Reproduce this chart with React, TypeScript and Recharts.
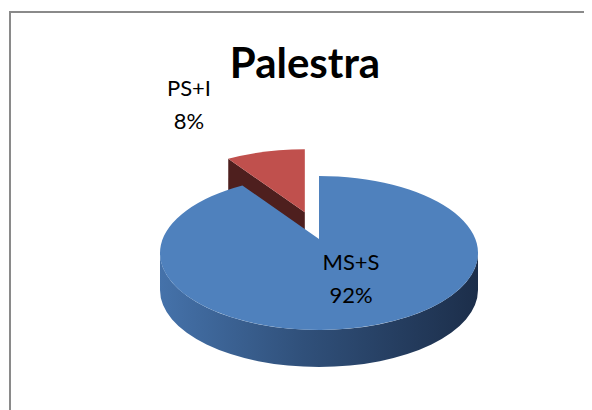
import React from 'react';
import { PieChart, Pie } from 'recharts';

const sliceNames = ['PS+I', 'MS+S'];
const sliceValues = [8, 92];
const topColors = ['#C0504D', '#4F81BD'];
const sideStops = [
  ['#9a3f3c', '#6e2c2a', '#4a1d1c'],
  ['#4572aa', '#30507a', '#1c2e4a'],
];
const cutColors = ['#4e1f1e', '#2c4a70'];
const explodeBy = [57, 0];
const labelOffsets = [
  [-130, -157],
  [32, 17],
];

const chartTitle = 'Palestra';

const data = sliceNames.map((name, i) => ({ name, value: sliceValues[i] }));

const W = 584;
const H = 402;
const CX = 306;
const CY = 240;
const R = 159;
const TILT = 77 / 159;
const DEPTH = 37;
const APEX_LIFT = 14;
const RAD = Math.PI / 180;
const FONT = 'Lato, "Open Sans", "DejaVu Sans", sans-serif';

function renderSlice(props: any) {
  const { cx, cy, outerRadius, startAngle, endAngle, index, percent, name } = props;
  const r = outerRadius;
  const mid = (startAngle + endAngle) / 2;
  const ex = explodeBy[index] || 0;
  const ox = cx + ex * Math.cos(mid * RAD);
  const oy = cy - ex * Math.sin(mid * RAD) * TILT;
  const ax = ox;
  const ay = oy - APEX_LIFT;
  const pt = (a: number, dz = 0) => [ox + r * Math.cos(a * RAD), oy - r * Math.sin(a * RAD) * TILT + dz];
  const ry = r * TILT;
  const gid = `side-grad-${index}`;

  const sides: React.ReactNode[] = [];
  for (let k = -1; k <= 2; k++) {
    const lo = Math.max(startAngle, 180 + 360 * k);
    const hi = Math.min(endAngle, 360 + 360 * k);
    if (lo < hi) {
      const [x1, y1] = pt(lo);
      const [x2, y2] = pt(hi);
      const [x3, y3] = pt(hi, DEPTH);
      const [x4, y4] = pt(lo, DEPTH);
      const large = hi - lo > 180 ? 1 : 0;
      const d = `M${x1},${y1} A${r},${ry} 0 ${large} 0 ${x2},${y2} L${x3},${y3} A${r},${ry} 0 ${large} 1 ${x4},${y4} Z`;
      sides.push(<path key={`s${k}`} d={d} fill={`url(#${gid})`} stroke="none" />);
    }
  }

  const cuts: React.ReactNode[] = [];
  const edges = [
    { a: startAngle, n: startAngle - 90 },
    { a: endAngle, n: endAngle + 90 },
  ];
  edges.forEach((e, j) => {
    if (Math.sin(e.n * RAD) < -0.01) {
      const [x1, y1] = pt(e.a);
      const d = `M${ax},${ay} L${x1},${y1} L${x1},${y1 + DEPTH} L${ax},${ay + DEPTH} Z`;
      cuts.push(<path key={`c${j}`} d={d} fill={cutColors[index]} stroke="none" />);
    }
  });

  const [sx, sy] = pt(startAngle);
  const [exx, eyy] = pt(endAngle);
  const largeTop = endAngle - startAngle > 180 ? 1 : 0;
  const topD = `M${ax},${ay} L${sx},${sy} A${r},${ry} 0 ${largeTop} 0 ${exx},${eyy} Z`;

  const [dx, dy] = labelOffsets[index];
  const lx = cx + dx;
  const ly = cy + dy;

  return (
    <g key={`slice-${index}`}>
      <defs>
        <linearGradient id={gid} gradientUnits="userSpaceOnUse" x1={ox - r} y1={0} x2={ox + r} y2={0}>
          <stop offset="0" stopColor={sideStops[index][0]} />
          <stop offset="0.45" stopColor={sideStops[index][1]} />
          <stop offset="1" stopColor={sideStops[index][2]} />
        </linearGradient>
      </defs>
      {sides}
      {cuts}
      <path d={topD} fill={topColors[index]} stroke="none" />
      <text x={lx} y={ly} textAnchor="middle" fontFamily={FONT} fontSize={22} fill="#000">
        {name}
      </text>
      <text x={lx} y={ly + 33} textAnchor="middle" fontFamily={FONT} fontSize={22} fill="#000">
        {`${Math.round(percent * 100)}%`}
      </text>
    </g>
  );
}

export default function App() {
  return (
    <div style={{ position: 'relative', width: W, height: H, overflow: 'hidden', background: '#fff' }}>
      <div
        style={{
          position: 'absolute',
          left: 1,
          top: 3,
          width: W + 50,
          height: H + 50,
          borderLeft: '2px solid #8a8a8a',
          borderTop: '2px solid #8a8a8a',
        }}
      />
      <div style={{ position: 'absolute', left: 0, top: 0 }}>
        <PieChart width={W} height={H}>
          <Pie
            data={data}
            dataKey="value"
            nameKey="name"
            cx={CX}
            cy={CY}
            outerRadius={R}
            startAngle={90}
            endAngle={450}
            fill="transparent"
            stroke="none"
            label={renderSlice}
            labelLine={false}
            isAnimationActive={false}
          />
        </PieChart>
      </div>
      <svg width={W} height={H} style={{ position: 'absolute', left: 0, top: 0, pointerEvents: 'none' }}>
        <text x={297} y={70} textAnchor="middle" fontFamily={FONT} fontWeight={700} fontSize={42} fill="#000">
          {chartTitle}
        </text>
      </svg>
    </div>
  );
}
